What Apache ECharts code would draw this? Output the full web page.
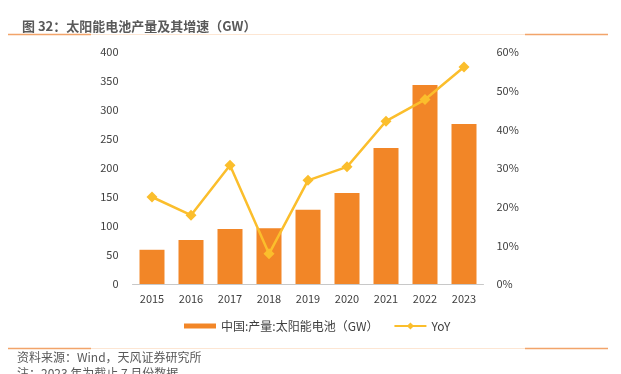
<!DOCTYPE html>
<html><head><meta charset="utf-8">
<script src="https://cdn.jsdelivr.net/npm/echarts@6/dist/echarts.min.js"></script>
<style>html,body{margin:0;padding:0;background:#fff}#c{width:621px;height:374px}</style>
</head><body><div id="c"></div>
<script>
const categories = ['2015','2016','2017','2018','2019','2020','2021','2022','2023'];
const production = [59, 76, 95, 96, 128, 157, 234.5, 343, 276];
const yoy = [22.5, 17.8, 30.7, 7.8, 26.8, 30.3, 42.1, 47.7, 56.1];
const leftTicks = [0, 400, 50];
const rightTicks = [0, 60, 10];
const barName = '中国:产量:太阳能电池（GW）';
const lineName = 'YoY';

const chart = echarts.init(document.getElementById('c'));
const font = 'Noto Sans CJK SC';
const dark = '#F2A46A', light = '#FDE6D3';
chart.setOption({
  animation: false,
  textStyle: { fontFamily: font },
  title: {
    text: '图 32：太阳能电池产量及其增速（GW）',
    left: 17, top: 15,
    textStyle: { fontSize: 13, fontWeight: 'bold', color: '#595959', fontFamily: font }
  },
  graphic: [
    { type: 'line', shape: { x1: 8, y1: 34.5, x2: 608, y2: 34.5 }, style: { stroke: light, lineWidth: 1 } },
    { type: 'line', shape: { x1: 8, y1: 34.5, x2: 91, y2: 34.5 }, style: { stroke: dark, lineWidth: 1.3 } },
    { type: 'line', shape: { x1: 525, y1: 34.5, x2: 608, y2: 34.5 }, style: { stroke: dark, lineWidth: 1.3 } },
    { type: 'line', shape: { x1: 8, y1: 348.5, x2: 608, y2: 348.5 }, style: { stroke: light, lineWidth: 1 } },
    { type: 'line', shape: { x1: 8, y1: 348.5, x2: 91, y2: 348.5 }, style: { stroke: dark, lineWidth: 1.3 } },
    { type: 'line', shape: { x1: 525, y1: 348.5, x2: 608, y2: 348.5 }, style: { stroke: dark, lineWidth: 1.3 } },
    { type: 'text', left: 17, top: 351, style: { text: '资料来源：Wind，天风证券研究所', fill: '#595959', font: '12px "Noto Sans CJK SC"' } },
    { type: 'text', left: 17, top: 367, style: { text: '注：2023 年为截止 7 月份数据', fill: '#595959', font: '12px "Noto Sans CJK SC"' } }
  ],
  legend: {
    top: 320, left: 184, padding: 0,
    itemGap: 15, itemWidth: 32, itemHeight: 9,
    textStyle: { fontSize: 12, color: '#404040', fontFamily: font },
    data: [
      { name: barName, icon: 'path://M0,0h32v5h-32z' },
      { name: lineName }
    ]
  },
  grid: { left: 132.5, right: 137.5, top: 52, bottom: 90 },
  xAxis: {
    type: 'category', data: categories,
    axisTick: { show: false },
    axisLine: { lineStyle: { color: '#C8C8C8' } },
    axisLabel: { color: '#404040', fontSize: 11, margin: 9 }
  },
  yAxis: [
    { type: 'value', min: leftTicks[0], max: leftTicks[1], interval: leftTicks[2],
      splitLine: { show: false }, axisLine: { show: false }, axisTick: { show: false },
      axisLabel: { color: '#404040', fontSize: 11, margin: 14 } },
    { type: 'value', min: rightTicks[0], max: rightTicks[1], interval: rightTicks[2],
      splitLine: { show: false }, axisLine: { show: false }, axisTick: { show: false },
      axisLabel: { color: '#404040', fontSize: 11, margin: 13, formatter: '{value}%' } }
  ],
  series: [
    { name: barName, type: 'bar', data: production, barWidth: 25,
      itemStyle: { color: '#F28627' } },
    { name: lineName, type: 'line', yAxisIndex: 1, data: yoy,
      symbol: 'diamond', symbolSize: 11,
      lineStyle: { color: '#FBBE2C', width: 2.5 },
      itemStyle: { color: '#FBBE2C' } }
  ]
});
</script></body></html>
